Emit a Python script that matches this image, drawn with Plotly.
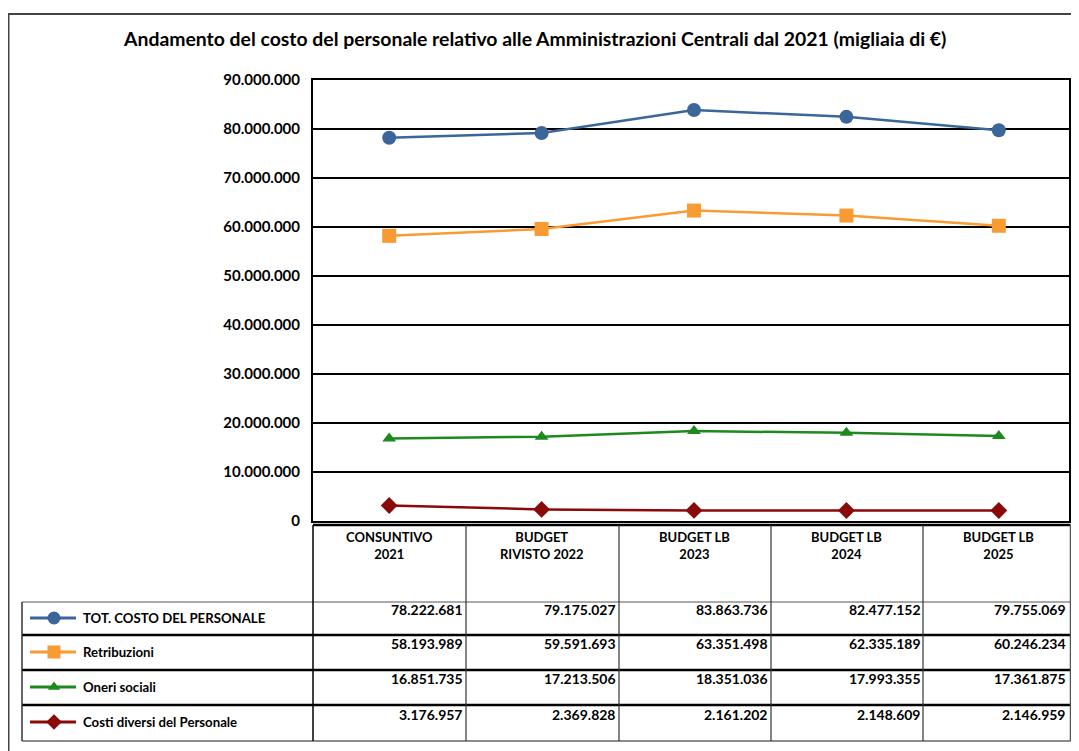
import plotly.graph_objects as go

W, H = 1079, 751

categories = ["CONSUNTIVO<br>2021", "BUDGET<br>RIVISTO 2022", "BUDGET LB<br>2023", "BUDGET LB<br>2024", "BUDGET LB<br>2025"]
series_names = ["TOT. COSTO DEL PERSONALE", "Retribuzioni", "Oneri sociali", "Costi diversi del Personale"]
tot_costo = [78222681, 79175027, 83863736, 82477152, 79755069]
retribuzioni = [58193989, 59591693, 63351498, 62335189, 60246234]
oneri_sociali = [16851735, 17213506, 18351036, 17993355, 17361875]
costi_diversi = [3176957, 2369828, 2161202, 2148609, 2146959]
y_ticks = [0, 10000000, 20000000, 30000000, 40000000, 50000000, 60000000, 70000000, 80000000, 90000000]

colors = ["#3A6699", "#F99B33", "#1E8A1E", "#8A0A0A"]
symbols = ["circle", "square", "triangle-up", "diamond"]
msizes = [14, 14, 12, 13]
all_series = [tot_costo, retribuzioni, oneri_sociali, costi_diversi]

FONT = "Lato"
OFF = 8  # page body margin offset compensation

def px(x):
    return (x - OFF) / W

def py(y):
    return 1 - (y - OFF) / H

xs = list(range(len(categories)))
n = len(categories)

x0, x_right_true, x1 = 313, 1075, 1069   # plot drawn to 1069 (visible part of page)
band = (x_right_true - x0) / n
x_range_end = (x1 - x0) / band - 0.5
y_top, y_bot = 80, 521

fig = go.Figure()
for name, vals, c, s, ms in zip(series_names, all_series, colors, symbols, msizes):
    fig.add_trace(go.Scatter(
        x=xs, y=vals, mode="lines+markers", name=name,
        line=dict(color=c, width=2.5),
        marker=dict(color=c, symbol=s, size=ms),
        xaxis="x", yaxis="y", showlegend=False, hoverinfo="skip", cliponaxis=False))

# legend swatches inside the table (separate full-figure pixel axis)
row_centers = [618, 652, 687, 722]
for name, c, s, ms, yc in zip(series_names, colors, symbols, msizes, row_centers):
    fig.add_trace(go.Scatter(
        x=[30 - OFF, 76 - OFF], y=[yc - OFF, yc - OFF], mode="lines",
        line=dict(color=c, width=3), xaxis="x2", yaxis="y2",
        showlegend=False, hoverinfo="skip"))
    fig.add_trace(go.Scatter(
        x=[54 - OFF], y=[yc - OFF], mode="markers",
        marker=dict(color=c, symbol=s, size=ms - 1), xaxis="x2", yaxis="y2",
        showlegend=False, hoverinfo="skip"))

shapes = []
def hline(y, xa, xb, w=1.5, col="black"):
    shapes.append(dict(type="line", xref="paper", yref="paper", x0=px(xa), x1=px(xb),
                       y0=py(y), y1=py(y), line=dict(color=col, width=w)))
def vline(x, ya, yb, w=1.5, col="black"):
    shapes.append(dict(type="line", xref="paper", yref="paper", x0=px(x), x1=px(x),
                       y0=py(ya), y1=py(yb), line=dict(color=col, width=w)))

# outer frame
hline(14, 8, 1087, 2, "#444")
vline(8.5, 14, 760, 2, "#444")

# table
TR = 1070.5
hline(525, 313, TR, 2.5)
hline(602, 22, TR, 1, "#555")
for yy in [635, 670, 705]:
    hline(yy, 22, TR, 2.5)
hline(741, 22, TR, 1.5, "#666")
vline(22, 602, 741, 1.5, "#333")
vline(313, 525, 741, 1.5)
for xx in [466, 619, 771, 923]:
    vline(xx, 525, 741, 1.2, "#333")
vline(TR, 525, 741, 1.5, "#555")

annotations = []
annotations.append(dict(
    text="<b>Andamento del costo del personale relativo alle Amministrazioni Centrali dal 2021 (migliaia di €)</b>",
    xref="paper", yref="paper", x=px(534), y=py(39), xanchor="center", yanchor="middle",
    showarrow=False, font=dict(family=FONT, size=19.4, color="black")))

for i, cat in enumerate(categories):
    annotations.append(dict(
        text="<b>" + cat + "</b>", xref="x", yref="paper", x=i, y=py(527),
        xanchor="center", yanchor="top", showarrow=False,
        font=dict(family=FONT, size=13, color="black")))

num_y = [609, 643, 678, 714]

def fmt(v):
    return f"{v:,}".replace(",", ".")

for vals, yy in zip(all_series, num_y):
    for i, v in enumerate(vals):
        annotations.append(dict(
            text="<b>" + fmt(v) + "</b>", xref="x", yref="paper",
            x=min(i + 0.5, x_range_end - 0.005), y=py(yy),
            xanchor="right", yanchor="middle", showarrow=False, xshift=0,
            font=dict(family=FONT, size=14, color="black")))

for name, yy in zip(series_names, row_centers):
    annotations.append(dict(
        text="<b>" + name + "</b>", xref="paper", yref="paper", x=px(81), y=py(yy),
        xanchor="left", yanchor="middle", showarrow=False,
        font=dict(family=FONT, size=13.2, color="black")))

fig.update_layout(
    width=W, height=H, autosize=False,
    margin=dict(l=0, r=0, t=0, b=0, pad=0, autoexpand=False),
    paper_bgcolor="white", plot_bgcolor="rgba(0,0,0,0)",
    separators=",.",
    xaxis=dict(domain=[px(x0), px(x1)], range=[-0.5, x_range_end], anchor="y",
               showticklabels=False, showgrid=False, zeroline=False, automargin=False,
               showline=True, linecolor="black", linewidth=2, mirror=True, fixedrange=True),
    yaxis=dict(domain=[py(y_bot), py(y_top)], range=[0, 90000000], anchor="x",
               tickvals=y_ticks, tickformat=",.0f", automargin=False,
               showgrid=True, gridcolor="black", gridwidth=1.5, zeroline=False,
               showline=True, linecolor="black", linewidth=2, mirror=True,
               ticks="", ticklabelstandoff=8,
               tickfont=dict(family=FONT, size=15, color="black", weight="bold"), fixedrange=True),
    xaxis2=dict(domain=[0, 1], range=[0, W], visible=False, anchor="y2", automargin=False, fixedrange=True),
    yaxis2=dict(domain=[0, 1], range=[H, 0], visible=False, anchor="x2", automargin=False, fixedrange=True),
    shapes=shapes, annotations=annotations,
    showlegend=False,
)

fig.write_html("out.html")
